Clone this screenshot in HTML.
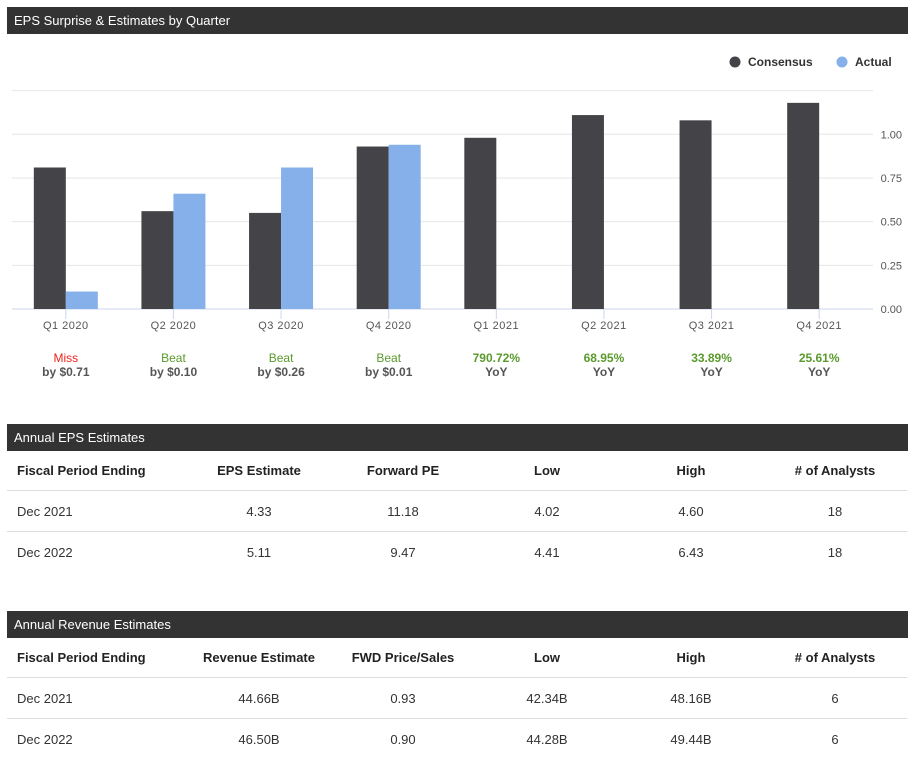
<!DOCTYPE html>
<html><head><meta charset="utf-8"><style>
body{margin:0;background:#fff;font-family:"Liberation Sans",Arial,sans-serif;width:912px;height:779px;overflow:hidden;position:relative}
.hdr{position:absolute;left:7px;width:901px;height:27px;background:#333;color:#fff;font-size:13px;line-height:27px;padding-left:7px;box-sizing:border-box}
table{position:absolute;left:7px;width:900px;border-collapse:collapse;font-size:13px;color:#333;table-layout:fixed}
td,th{height:40px;border-bottom:1px solid #ddd;text-align:center;padding:0}
th{font-weight:bold;color:#222;height:39px}
td:first-child,th:first-child{text-align:left;padding-left:10px}
tr:last-child td{border-bottom:none}
</style></head><body>
<div class="hdr" style="top:7px">EPS Surprise &amp; Estimates by Quarter</div>
<svg id="chart" width="912" height="400" style="position:absolute;left:0;top:0"></svg>
<script>
const categories=["Q1 2020","Q2 2020","Q3 2020","Q4 2020","Q1 2021","Q2 2021","Q3 2021","Q4 2021"];
const consensus=[0.81,0.56,0.55,0.93,0.98,1.11,1.08,1.18];
const actual=[0.10,0.66,0.81,0.94,null,null,null,null];
const yTicks=[0,0.25,0.5,0.75,1.0];
const noteTop=["Miss","Beat","Beat","Beat","790.72%","68.95%","33.89%","25.61%"];
const noteBottom=["by $0.71","by $0.10","by $0.26","by $0.01","YoY","YoY","YoY","YoY"];
const noteColor=["#f0201a","#5a9a2c","#5a9a2c","#5a9a2c","#5a9a2c","#5a9a2c","#5a9a2c","#5a9a2c"];
const NS="http://www.w3.org/2000/svg";
const svg=document.getElementById('chart');
const X0=12,X1=873,Y0=309,PER=174.7;
const bw=(X1-X0)/categories.length;
const y=v=>Y0-v*PER;
const xc=i=>X0+bw*(i+0.5);
function el(t,a){const e=document.createElementNS(NS,t);for(const k in a)e.setAttribute(k,a[k]);svg.appendChild(e);return e;}
[...yTicks,1.25].forEach((v,i)=>{
 const g=el('line',{x1:12,x2:873,y1:y(v),y2:y(v),stroke:v===0?'#ccd6eb':'#e6e6e6','stroke-width':1});
 
 
 if(i<yTicks.length){const t=el('text',{x:902,y:y(v)+4,'text-anchor':'end','font-size':11,fill:'#555'});t.textContent=v.toFixed(2);
 
 }
});
categories.forEach((c,i)=>{
 const cx=xc(i);
 const tk=el('line',{x1:cx,x2:cx,y1:Y0,y2:Y0+10,stroke:'#ccd6eb'});
 
 
 const b=el('rect',{x:cx-32,y:y(consensus[i]),width:32,height:consensus[i]*PER,fill:'#434348'});
 
 
 if(actual[i]!=null){const a=el('rect',{x:cx,y:y(actual[i]),width:32,height:actual[i]*PER,fill:'#86b0ea'});
 
 }
 const t=el('text',{x:cx,y:329,'text-anchor':'middle','font-size':11,fill:'#555','letter-spacing':'0.5'});t.textContent=c;
 
 
 const n1=el('text',{x:cx,y:362,'text-anchor':'middle','font-size':12,fill:noteColor[i],'font-weight':i>3?'bold':'normal'});n1.textContent=noteTop[i];
 
 
 const n2=el('text',{x:cx,y:376,'text-anchor':'middle','font-size':12,fill:'#555','font-weight':'bold'});n2.textContent=noteBottom[i];
 
 
});
[[735,'#434348','Consensus',748],[842,'#86b0ea','Actual',855]].forEach(d=>{
 const c=el('circle',{cx:d[0],cy:62,r:5.5,fill:d[1]});
 
 
 const t=el('text',{x:d[3],y:66,'font-size':12,'font-weight':'bold',fill:'#333'});t.textContent=d[2];
 
 
});
</script>
<div class="hdr" style="top:424px">Annual EPS Estimates</div>
<table style="top:451px">
<colgroup><col style="width:180px"><col style="width:144px"><col style="width:144px"><col style="width:144px"><col style="width:144px"><col style="width:144px"></colgroup>
<tr><th>Fiscal Period Ending</th><th>EPS Estimate</th><th>Forward PE</th><th>Low</th><th>High</th><th>#&nbsp;of Analysts</th></tr>
<tr><td>Dec 2021</td><td>4.33</td><td>11.18</td><td>4.02</td><td>4.60</td><td>18</td></tr>
<tr><td>Dec 2022</td><td>5.11</td><td>9.47</td><td>4.41</td><td>6.43</td><td>18</td></tr>
</table>
<div class="hdr" style="top:611px">Annual Revenue Estimates</div>
<table style="top:638px">
<colgroup><col style="width:180px"><col style="width:144px"><col style="width:144px"><col style="width:144px"><col style="width:144px"><col style="width:144px"></colgroup>
<tr><th>Fiscal Period Ending</th><th>Revenue Estimate</th><th>FWD Price/Sales</th><th>Low</th><th>High</th><th>#&nbsp;of Analysts</th></tr>
<tr><td>Dec 2021</td><td>44.66B</td><td>0.93</td><td>42.34B</td><td>48.16B</td><td>6</td></tr>
<tr><td>Dec 2022</td><td>46.50B</td><td>0.90</td><td>44.28B</td><td>49.44B</td><td>6</td></tr>
</table>
</body></html>
